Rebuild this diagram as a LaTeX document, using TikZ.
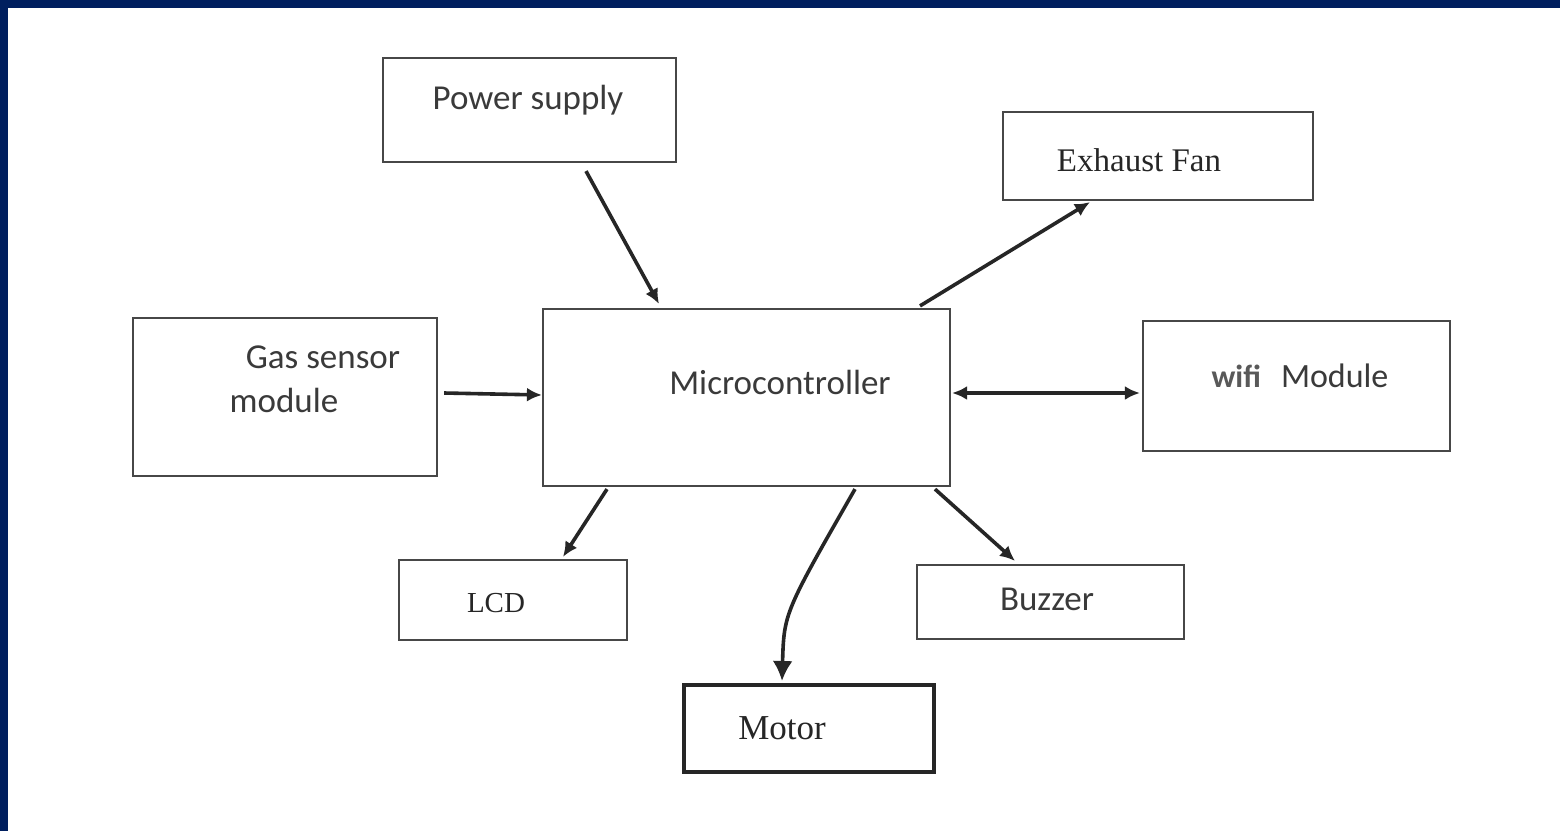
\documentclass[tikz,border=0pt]{standalone}
\usepackage{fontspec}
\setmainfont{Carlito}
\newfontfamily\serifx{Liberation Serif}
\usetikzlibrary{calc,arrows.meta}
\definecolor{navy}{RGB}{0,31,95}
\definecolor{txt}{RGB}{58,58,58}
\begin{document}
\begin{tikzpicture}[x=0.5pt,y=-0.5pt,
  box/.style={draw=black!72, line width=1.1pt, inner sep=0pt, fill=white},
  sanslab/.style={font=\fontsize{17.5}{20}\selectfont, text=txt, inner sep=0pt},
  seriflab/.style={font=\serifx\fontsize{17}{20}\selectfont, text=black!85, inner sep=0pt},
  arr/.style={line width=1.8pt, draw=black!85, -{Latex[length=7.5pt,width=7pt]}},
  darr/.style={line width=1.8pt, draw=black!85, {Latex[length=7.5pt,width=7pt]}-{Latex[length=7.5pt,width=7pt]}}]
\useasboundingbox (0,0) rectangle (1560,831);
\fill[navy] (0,0) rectangle (1560,831);
\fill[white] (8,8) rectangle (1560,831);

\node[box, minimum width=146.5pt, minimum height=52pt,
  label={[sanslab,xshift=-0.75pt,yshift=5pt]center:Power supply}] (ps) at (529.5,110) {};
\node[box, minimum width=155pt, minimum height=44pt,
  label={[seriflab,font=\serifx\fontsize{16.5}{20}\selectfont,xshift=-9.5pt,yshift=-2pt]center:Exhaust Fan}] (exh) at (1158,156) {};
\node[box, minimum width=152pt, minimum height=79pt,
  label={[sanslab,xshift=19pt,yshift=20pt]center:Gas sensor},
  label={[sanslab,xshift=-0.5pt,yshift=-1.5pt]center:module}] (gas) at (285,397) {};
\node[box, minimum width=203.5pt, minimum height=88.5pt,
  label={[sanslab,xshift=16.75pt,yshift=7.75pt]center:Microcontroller}] (micro) at (746.5,397.5) {};
\node[box, minimum width=153.5pt, minimum height=65pt,
  label={[sanslab,font=\fontsize{17}{20}\selectfont,xshift=1.75pt,yshift=5pt]center:{\textcolor{black!65}{\fontsize{16}{20}\selectfont\bfseries wifi}\hspace{10pt}Module}}] (wifi) at (1296.5,386) {};
\node[box, minimum width=114pt, minimum height=40pt,
  label={[seriflab,font=\serifx\fontsize{14.5}{18}\selectfont,xshift=-8.5pt,yshift=-1.5pt]center:LCD}] (lcd) at (513,600) {};
\node[box, minimum width=133.5pt, minimum height=37pt,
  label={[sanslab,xshift=-1.75pt,yshift=1.5pt]center:Buzzer}] (buz) at (1050.5,602) {};
\node[box, draw=black!85, line width=2pt, minimum width=125pt, minimum height=43.5pt,
  label={[seriflab,font=\serifx\fontsize{17.5}{20}\selectfont,xshift=-13.5pt,yshift=0pt]center:Motor}] (motor) at (809,728.5) {};

\draw[arr] ($(ps.south)+(56.5,8)$) -- ($(micro.north)+(-87.5,-4)$);
\draw[arr] ($(micro.north)+(173.5,-2)$) -- ($(exh.south)+(-68,1)$);
\draw[arr] ($(gas.east)+(6,-4)$) -- ($(micro.west)+(0,-2.5)$);
\draw[darr] ($(micro.east)+(1,-4.5)$) -- ($(wifi.west)+(-2,7)$);
\draw[arr] ($(micro.south)+(-139.5,2)$) -- ($(lcd.north)+(50,-2)$);
\draw[arr] ($(micro.south)+(188.5,2)$) -- ($(buz.north)+(-35.5,-3)$);
\draw[line width=1.8pt, draw=black!85, -{Latex[length=10pt,width=10pt]}] ($(micro.south)+(108.5,2)$) .. controls ($(motor.north)+(-25,-70)$) .. ($(motor.north)+(-27,-2)$);
\end{tikzpicture}
\end{document}
